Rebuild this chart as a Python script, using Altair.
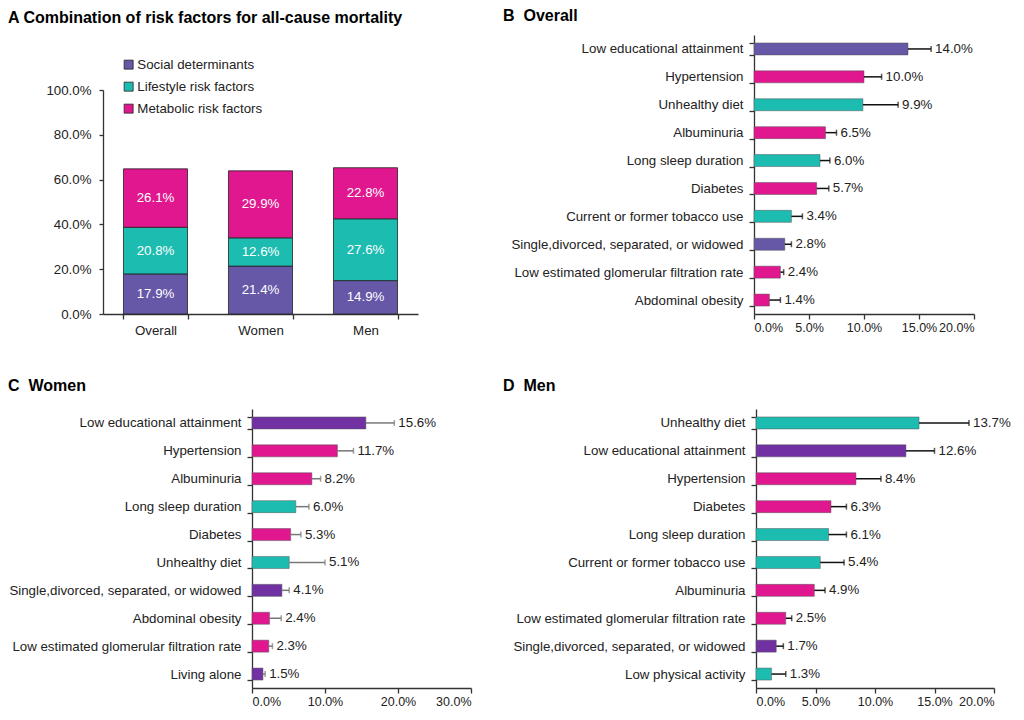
import altair as alt
import pandas as pd

FONT = "Liberation Sans"

type_names = ["Social determinants", "Lifestyle risk factors", "Metabolic risk factors"]
type_key = {"S": type_names[0], "L": type_names[1], "M": type_names[2]}
ab_colors = ["#6657a7", "#1dbcb1", "#e0178e"]
cd_colors = ["#7131a2", "#1dbcb1", "#e0178e"]

# Panel A
groups = ["Overall", "Women", "Men"]
social = [17.9, 21.4, 14.9]
lifestyle = [20.8, 12.6, 27.6]
metabolic = [26.1, 29.9, 22.8]

# Panel B
b_labels = ["Low educational attainment", "Hypertension", "Unhealthy diet", "Albuminuria",
            "Long sleep duration", "Diabetes", "Current or former tobacco use",
            "Single,divorced, separated, or widowed", "Low estimated glomerular filtration rate",
            "Abdominal obesity"]
b_values = [14.0, 10.0, 9.9, 6.5, 6.0, 5.7, 3.4, 2.8, 2.4, 1.4]
b_upper = [16.1, 11.6, 13.1, 7.5, 6.9, 6.8, 4.4, 3.4, 2.7, 2.4]
b_types = ["S", "M", "L", "M", "L", "M", "L", "S", "M", "M"]

# Panel C
c_labels = ["Low educational attainment", "Hypertension", "Albuminuria", "Long sleep duration",
            "Diabetes", "Unhealthy diet", "Single,divorced, separated, or widowed",
            "Abdominal obesity", "Low estimated glomerular filtration rate", "Living alone"]
c_values = [15.6, 11.7, 8.2, 6.0, 5.3, 5.1, 4.1, 2.4, 2.3, 1.5]
c_upper = [19.5, 13.9, 9.4, 7.8, 6.7, 10.0, 5.1, 4.0, 2.8, 1.8]
c_types = ["S", "M", "M", "L", "M", "L", "S", "M", "M", "S"]

# Panel D
d_labels = ["Unhealthy diet", "Low educational attainment", "Hypertension", "Diabetes",
            "Long sleep duration", "Current or former tobacco use", "Albuminuria",
            "Low estimated glomerular filtration rate", "Single,divorced, separated, or widowed",
            "Low physical activity"]
d_values = [13.7, 12.6, 8.4, 6.3, 6.1, 5.4, 4.9, 2.5, 1.7, 1.3]
d_upper = [17.9, 15.0, 10.5, 7.6, 7.6, 7.4, 5.8, 3.0, 2.3, 2.5]
d_types = ["L", "S", "M", "M", "L", "L", "M", "M", "S", "L"]

PCT = "format(datum.value, '.1f') + '%'"


def title(text, dx, dy):
    return alt.TitleParams(text=text, anchor="start", frame="group", dx=dx, dy=dy,
                           fontSize=16, fontWeight="bold", font=FONT, color="#000")


def spacer(w, h):
    return alt.Chart(pd.DataFrame({"a": [0]})).mark_text(text="").encode(
        x=alt.value(0), y=alt.value(0)).properties(width=w, height=h)


# ---------- Panel A ----------
rows = []
for i, g in enumerate(groups):
    for k, (name, arr) in enumerate(zip(type_names, [social, lifestyle, metabolic])):
        rows.append({"group": g, "type": name, "order": k, "value": arr[i],
                     "text": f"{arr[i]:.1f}%"})
dfa = pd.DataFrame(rows)

baseA = alt.Chart(dfa).transform_stack(
    stack="value", groupby=["group"], sort=[alt.SortField("order")], as_=["v0", "v1"]
).transform_calculate(mid="(datum.v0 + datum.v1) / 2")

xA = alt.X("group:N", sort=groups,
           scale=alt.Scale(paddingInner=0.39, paddingOuter=0.195),
           axis=alt.Axis(title=None, labelAngle=0, tickBand="extent", labelPadding=4,
                         labelFontSize=13.3))
yA_scale = alt.Scale(domain=[0, 100], nice=False, range=[279, 55])
barsA = baseA.mark_bar(stroke="#222", strokeWidth=0.8).encode(
    x=xA,
    y=alt.Y("v0:Q", scale=yA_scale,
            axis=alt.Axis(title=None, values=[0, 20, 40, 60, 80, 100], labelExpr=PCT,
                          tickSize=4, labelPadding=8, labelFontSize=13.3)),
    y2="v1:Q",
    color=alt.Color("type:N", scale=alt.Scale(domain=type_names, range=ab_colors),
                    sort=type_names,
                    legend=alt.Legend(title=None, orient="none", legendX=19, legendY=23,
                                      symbolType="square", symbolSize=81,
                                      symbolStrokeColor="#222", symbolStrokeWidth=0.8,
                                      labelFontSize=13.3, labelFont=FONT, labelColor="#222",
                                      rowPadding=8, labelOffset=2, padding=0)),
)
textA = baseA.mark_text(color="white", fontSize=13.3, font=FONT).encode(
    x=alt.X("group:N", sort=groups), y=alt.Y("mid:Q", scale=yA_scale), text="text:N")
panelA = alt.layer(barsA, textA).properties(
    width=315, height=279,
    title=title("A Combination of risk factors for all-cause mortality", -95, -5))


# ---------- horizontal panels ----------
def hpanel(labels, values, upper, types, colors, xmax, step, width, ttl, dx, dy, err_color):
    df = pd.DataFrame({"label": labels, "value": values, "upper": upper,
                       "type": [type_key[t] for t in types],
                       "text": [f"{v:.1f}%" for v in values]})
    y = alt.Y("label:N", sort=labels,
              scale=alt.Scale(paddingInner=0.57, paddingOuter=0.285),
              axis=alt.Axis(title=None, tickBand="extent", labelPadding=6,
                            labelFontSize=13.3, labelLimit=400))
    x = alt.X("value:Q", scale=alt.Scale(domain=[0, xmax], nice=False),
              axis=alt.Axis(title=None, values=list(range(0, xmax + 1, step)),
                            labelExpr=PCT, labelFontSize=12.5))
    base = alt.Chart(df)
    bars = base.mark_bar(stroke="#555", strokeWidth=0.5).encode(
        x=x, y=y,
        color=alt.Color("type:N", scale=alt.Scale(domain=type_names, range=colors),
                        legend=None))
    err = base.mark_rule(color=err_color, strokeWidth=1.5).encode(
        x="value:Q", x2="upper:Q", y=alt.Y("label:N", sort=labels))
    cap = base.mark_tick(color=err_color, thickness=1.5, size=6).encode(
        x="upper:Q", y=alt.Y("label:N", sort=labels))
    txt = base.mark_text(align="left", dx=4, fontSize=13.3, font=FONT, color="#222").encode(
        x="upper:Q", y=alt.Y("label:N", sort=labels), text="text:N")
    return alt.layer(bars, err, cap, txt).properties(
        width=width, height=279, title=title(ttl, dx, dy))


panelB = hpanel(b_labels, b_values, b_upper, b_types, ab_colors, 20, 5, 220,
                "B\u00a0 Overall", -251, 0, "#111")
panelC = hpanel(c_labels, c_values, c_upper, c_types, cd_colors, 30, 10, 219,
                "C\u00a0 Women", -244, -4, "#777")
panelD = hpanel(d_labels, d_values, d_upper, d_types, cd_colors, 20, 5, 238,
                "D\u00a0 Men", -253, -4, "#111")

row1 = alt.hconcat(panelA, panelB, spacing=336, bounds="flush").resolve_scale(
    color="independent")
row2 = alt.hconcat(spacer(149, 279), panelC, spacer(285, 279), panelD,
                   spacing=0, bounds="flush").resolve_scale(color="independent")

chart = alt.vconcat(row1, row2, spacing=41).resolve_scale(
    color="independent"
).properties(
    padding={"left": 0, "top": 0, "right": 0, "bottom": 0}
).configure_view(stroke=None).configure_axis(
    labelFont=FONT, labelColor="#222", domainColor="#333", tickColor="#333",
    domainWidth=1.3, tickWidth=1.3, tickSize=5, grid=False
).configure_text(font=FONT)

chart.save("out.html", embed_options={"renderer": "svg", "actions": False})
